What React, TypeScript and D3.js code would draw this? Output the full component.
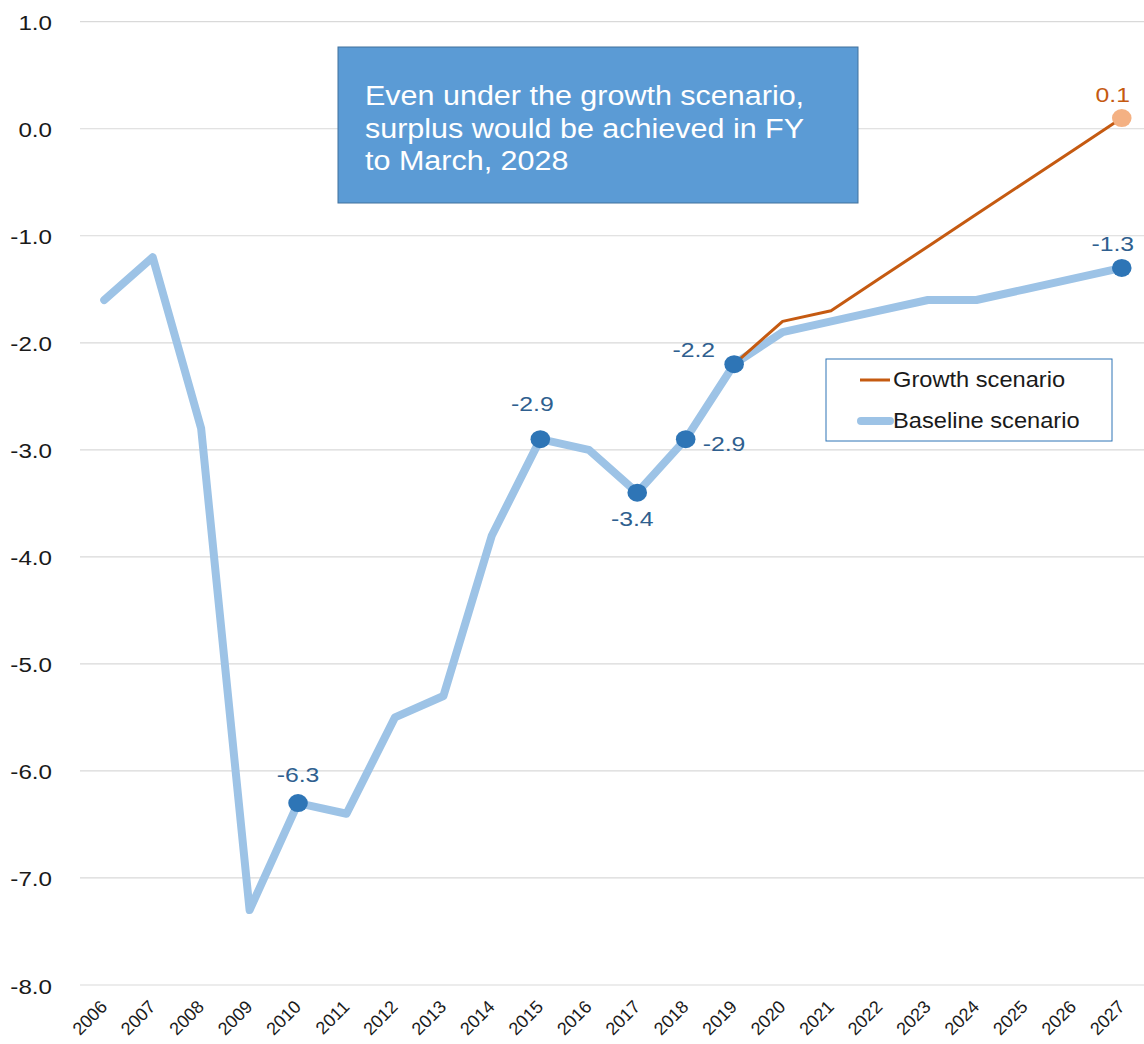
import React from "react";
import * as d3 from "d3";

const years = ["2006","2007","2008","2009","2010","2011","2012","2013","2014","2015","2016","2017","2018","2019","2020","2021","2022","2023","2024","2025","2026","2027"];
const baseline = [-1.6,-1.2,-2.8,-7.3,-6.3,-6.4,-5.5,-5.3,-3.8,-2.9,-3.0,-3.4,-2.9,-2.2,-1.9,-1.8,-1.7,-1.6,-1.6,-1.5,-1.4,-1.3];
const growthYears = ["2019","2020","2021","2022","2023","2024","2025","2026","2027"];
const growth = [-2.2,-1.8,-1.7,-1.4,-1.1,-0.8,-0.5,-0.2,0.1];
const yTicks = [1,0,-1,-2,-3,-4,-5,-6,-7,-8];
const markedYears = ["2010","2015","2017","2018","2019","2027"];
const labelPos: Record<string, string> = { "2010": "above", "2015": "above", "2017": "below", "2018": "right", "2019": "left", "2027": "above" };
const annotationLines = ["Even under the growth scenario,", "surplus would be achieved in FY", "to March, 2028"];

const W = 1144, H = 1044;
const left = 80, right = 1146, top = 21.7, bottom = 985;
const font = "'Liberation Sans', Arial, sans-serif";

const fmt = (v: number) => d3.format(".1f")(v).replace("\u2212", "-");

function T(props: { x: number; y: number; size: number; sx?: number; anchor?: "start" | "middle" | "end"; fill: string; children: React.ReactNode }) {
  const { x, y, size, sx = 1, anchor = "start", fill, children } = props;
  return (
    <text transform={`translate(${x},${y}) scale(${sx},1)`} textAnchor={anchor} fontSize={size} fill={fill}>{children}</text>
  );
}

export default function App() {
  const x = d3.scaleBand().domain(years).range([left, right]);
  const cx = (yr: string) => (x(yr) as number) + x.bandwidth() / 2;
  const y = d3.scaleLinear().domain([-8, 1]).range([bottom, top]);
  const line = d3.line<[string, number]>().x(d => cx(d[0])).y(d => y(d[1]));
  const basePath = line(years.map((yr, i) => [yr, baseline[i]]))!;
  const growthPath = line(growthYears.map((yr, i) => [yr, growth[i]]))!;
  const labelColor = "#2f5f8f";

  return (
    <svg width={W} height={H} style={{ position: "absolute", left: 0, top: 0, fontFamily: font }}>
      <rect width={W} height={H} fill="#fff" />
      {yTicks.map(t => (
        <g key={t}>
          <line x1={left} x2={W} y1={y(t)} y2={y(t)} stroke="#d9d9d9" strokeWidth={1.2} />
          <T x={52} y={y(t) + 8.5} anchor="end" size={20.5} sx={1.18} fill="#1a1a1a">{fmt(t)}</T>
        </g>
      ))}
      {years.map(yr => (
        <text key={yr} transform={`translate(${cx(yr) + 4},${1008}) rotate(-45)`} textAnchor="end" fontSize={18} fill="#1a1a1a">{yr}</text>
      ))}
      <path d={basePath} fill="none" stroke="#9dc3e6" strokeWidth={8} strokeLinejoin="round" strokeLinecap="round" />
      <path d={growthPath} fill="none" stroke="#c55a11" strokeWidth={3} strokeLinejoin="round" />
      {markedYears.map(yr => {
        const v = baseline[years.indexOf(yr)];
        const px = cx(yr), py = y(v);
        const pos = labelPos[yr];
        let tx = px, ty = py - 24, anchor: "middle" | "start" | "end" = "middle";
        if (yr === "2015") { tx = px - 8; ty = py - 28; }
        if (yr === "2027") { tx = px - 9; ty = py - 17; }
        if (yr === "2010") { ty = py - 21; }
        if (pos === "below") { ty = py + 33; tx = px - 5; }
        if (pos === "right") { tx = px + 17; ty = py + 12; anchor = "start"; }
        if (pos === "left") { tx = px - 19; ty = py - 7; anchor = "end"; }
        return (
          <g key={yr}>
            <ellipse cx={px} cy={py} rx={9.8} ry={9} fill="#2e75b6" />
            <T x={tx} y={ty} anchor={anchor} size={21} sx={1.18} fill={labelColor}>{fmt(v)}</T>
          </g>
        );
      })}
      {(() => {
        const yr = growthYears[growthYears.length - 1];
        const v = growth[growth.length - 1];
        const px = cx(yr), py = y(v);
        return (
          <g>
            <ellipse cx={px} cy={py} rx={9.8} ry={9} fill="#f4b183" />
            <T x={px - 9} y={py - 16} anchor="middle" size={21} sx={1.18} fill="#c55a11">{fmt(v)}</T>
          </g>
        );
      })()}
      <rect x={826} y={359} width={286} height={82} fill="#fff" stroke="#2e75b6" strokeWidth={1} />
      <line x1={860} x2={890} y1={380} y2={380} stroke="#c55a11" strokeWidth={3} />
      <T x={893} y={387} size={21.5} sx={1.1} fill="#1a1a1a">Growth scenario</T>
      <line x1={861} x2={890} y1={421} y2={421} stroke="#9dc3e6" strokeWidth={8} strokeLinecap="round" />
      <T x={893} y={428} size={21.5} sx={1.1} fill="#1a1a1a">Baseline scenario</T>
      <rect x={338} y={47} width={520} height={156} fill="#5b9bd5" stroke="#41719c" strokeWidth={1} />
      {annotationLines.map((s, i) => (
        <T key={i} x={365} y={105 + i * 32.5} size={28} sx={1.09} fill="#fff">{s}</T>
      ))}
    </svg>
  );
}
